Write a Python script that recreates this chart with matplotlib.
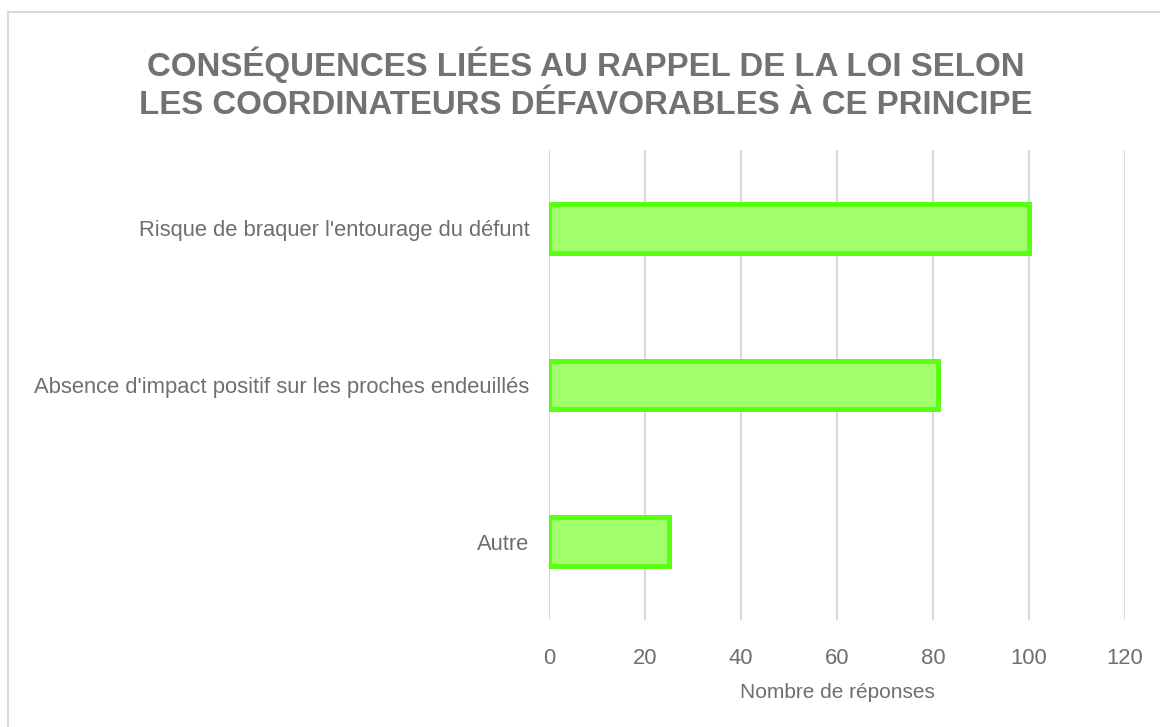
import matplotlib.pyplot as plt
from matplotlib.lines import Line2D

categories = ["Risque de braquer l'entourage du défunt",
              "Absence d'impact positif sur les proches endeuillés",
              "Autre"]
values = [100, 81, 25]
xticks = [0, 20, 40, 60, 80, 100, 120]

plt.rcParams['font.family'] = ['Liberation Sans', 'DejaVu Sans']

fig = plt.figure(figsize=(11.6, 7.27), dpi=100)
ax = fig.add_axes([549/1160, 1-620/727, 576/1160, 470/727])

ypos = list(range(len(categories)))
ax.barh(ypos, values, height=0.31, color='#a0ff6a', edgecolor='#5aff14',
        linewidth=3.6, zorder=3)
ax.set_ylim(len(categories)-0.5, -0.5)
ax.set_xlim(0, 120)
ax.set_xticks(xticks)
ax.set_yticks(ypos)
ax.set_yticklabels(categories)
ax.tick_params(axis='both', length=0, colors='#6e6e6e', labelsize=15.8)
ax.tick_params(axis='y', pad=14)
ax.tick_params(axis='x', pad=20)
ax.grid(axis='x', color='#d9d9d9', linewidth=1.5, zorder=0)
for s in ax.spines.values():
    s.set_visible(False)
ax.set_xlabel('Nombre de réponses', color='#6e6e6e', fontsize=15, labelpad=10)

fig.text(0.505, 1-84/727, 'CONSÉQUENCES LIÉES AU RAPPEL DE LA LOI SELON\nLES COORDINATEURS DÉFAVORABLES À CE PRINCIPE',
         ha='center', va='center', fontsize=23.8, fontweight='bold', color='#767171',
         linespacing=1.3)

fig.add_artist(Line2D([8/1160, 8/1160], [0, 1-12/727], transform=fig.transFigure, color='#d9d9d9', lw=1.5))
fig.add_artist(Line2D([8/1160, 1], [1-12/727, 1-12/727], transform=fig.transFigure, color='#d9d9d9', lw=1.5))

fig.savefig('out.png', dpi=100)
